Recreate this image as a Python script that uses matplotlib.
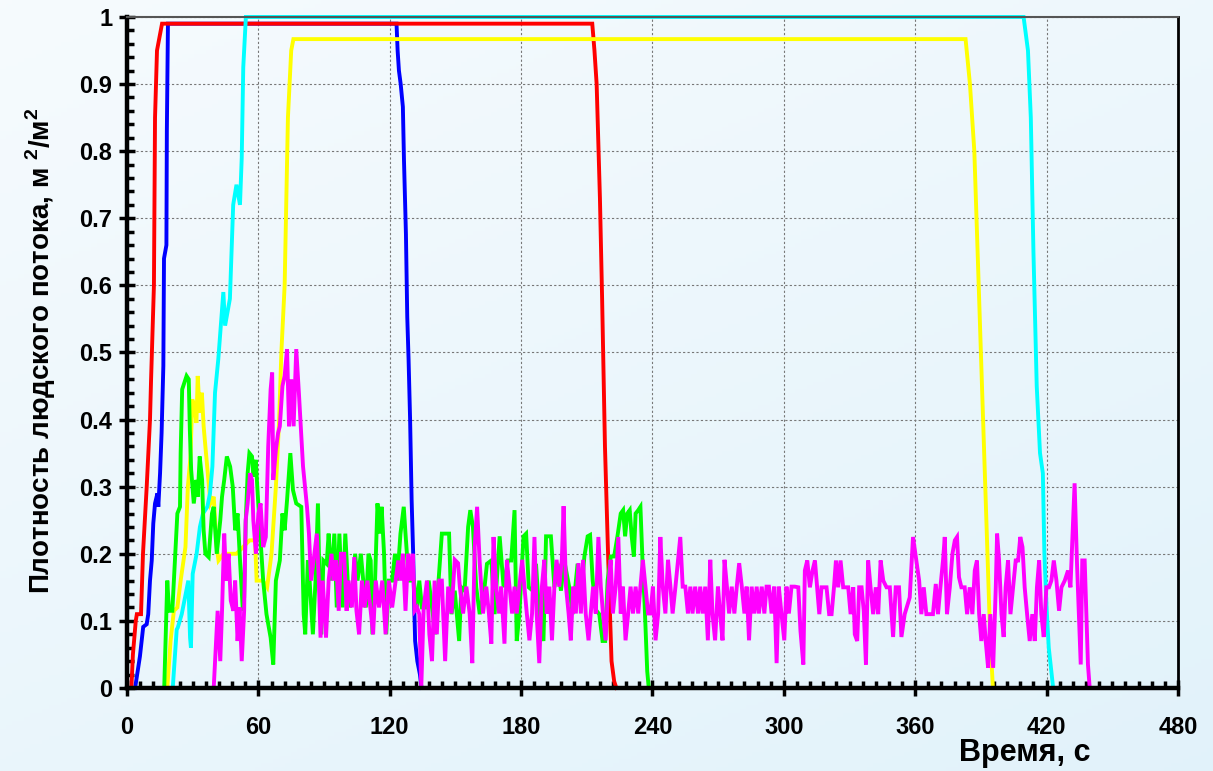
import numpy as np
import matplotlib
matplotlib.use("Agg")
import matplotlib.pyplot as plt
from matplotlib.ticker import MultipleLocator, FuncFormatter

plt.rcParams["font.family"] = ["Liberation Sans", "DejaVu Sans"]
plt.rcParams["font.weight"] = "bold"
plt.rcParams["mathtext.fontset"] = "custom"
plt.rcParams["mathtext.rm"] = "Liberation Sans:bold"
plt.rcParams["mathtext.bf"] = "Liberation Sans:bold"

# ── data (time, s ; density, m2/m2) ───────────────────────────────────────────
red = [(2, 0), (2.7, 0.05), (4, 0.1), (4.5, 0.11), (6.4, 0.11), (7.3, 0.2), (9, 0.3),
       (10.5, 0.4), (11, 0.46), (12.3, 0.6), (12.8, 0.85), (13.7, 0.95), (16, 0.99),
       (212.5, 0.99), (213.5, 0.95), (214.5, 0.9), (216, 0.73), (217, 0.58), (218.3, 0.36),
       (219.8, 0.19), (221.3, 0.04), (222.5, 0.01), (223.5, 0)]

blue = [(3.7, 0), (5.9, 0.047), (7.4, 0.091), (9, 0.095), (9.7, 0.11), (10.5, 0.16),
        (11.3, 0.19), (12, 0.245), (12.8, 0.275), (13.9, 0.29), (14.3, 0.27), (15.1, 0.32),
        (15.8, 0.38), (16.6, 0.48), (16.9, 0.64), (18, 0.66), (18.2, 0.83), (18.7, 0.99),
        (123.1, 0.99), (123.6, 0.95), (124.2, 0.92), (125, 0.9), (126, 0.866),
        (126.5, 0.787), (127.4, 0.676), (128, 0.553), (128.6, 0.49), (129.3, 0.4),
        (130, 0.28), (130.7, 0.2), (131.2, 0.12), (131.6, 0.07), (132.6, 0.04),
        (133.8, 0.02), (134.5, 0)]

cyan = [(20.9, 0), (22.7, 0.087), (23.2, 0.09), (25, 0.11), (28, 0.16), (28.8, 0.075),
        (29.2, 0.06), (30, 0.17), (31.8, 0.2), (33.3, 0.24), (34.7, 0.26), (36.7, 0.27),
        (37.9, 0.29), (39, 0.33), (40.2, 0.44), (41.7, 0.49), (44, 0.59), (44.8, 0.54),
        (47, 0.58), (48.5, 0.72), (50, 0.75), (51.6, 0.72), (52.4, 0.79), (53.1, 0.925),
        (54.3, 1.0), (409.5, 1.0), (411.5, 0.95), (412.8, 0.85), (414, 0.65), (415.5, 0.45),
        (417, 0.35), (418.3, 0.32), (419, 0.2), (420, 0.12), (421, 0.06), (423, 0)]

yellow = [(18.4, 0), (19.9, 0.07), (21.4, 0.115), (23, 0.12), (24.5, 0.16), (26.7, 0.21),
          (27.8, 0.3), (29, 0.345), (29.8, 0.43), (30.8, 0.42), (31.7, 0.395), (32.3, 0.465),
          (33.2, 0.41), (34.2, 0.44), (35, 0.39), (35.8, 0.36), (36.9, 0.32), (38.1, 0.275),
          (39.6, 0.285), (41, 0.21), (41.8, 0.19), (44.1, 0.2), (45.6, 0.16), (46.4, 0.2),
          (47.9, 0.2), (50, 0.2), (53, 0.21), (56, 0.22), (58.5, 0.22), (59.2, 0.16),
          (62, 0.16), (64, 0.15), (66, 0.2), (68, 0.3), (69.5, 0.4), (70.5, 0.5), (72, 0.6),
          (73.5, 0.85), (75, 0.95), (76, 0.967), (383, 0.967), (385, 0.9), (387, 0.8),
          (389, 0.6), (390.5, 0.45), (392, 0.3), (393, 0.2), (394, 0.1), (395, 0.03),
          (395.5, 0)]

green = [(17, 0), (18.4, 0.16), (19.2, 0.115), (20.7, 0.115), (22.2, 0.21), (23, 0.26),
         (24.2, 0.27), (24.5, 0.35), (25.2, 0.445), (27.2, 0.465), (28.2, 0.46), (28.7, 0.385),
         (29.3, 0.325), (30.5, 0.275), (31.7, 0.31), (32.3, 0.285), (33.2, 0.345), (34.3, 0.31),
         (35, 0.235), (35.8, 0.2), (37.3, 0.195), (38.8, 0.26), (39.6, 0.27), (41, 0.2),
         (42.6, 0.25), (43.4, 0.285), (44.4, 0.31), (45.6, 0.345), (47.1, 0.33), (48.3, 0.3),
         (49.4, 0.235), (50.5, 0.26), (51.7, 0.185), (52.9, 0.115), (53.5, 0.135), (54.2, 0.245),
         (55.1, 0.32), (55.9, 0.35), (57.1, 0.345), (57.7, 0.315), (58.8, 0.34), (59.5, 0.3),
         (60.7, 0.235), (62.2, 0.16), (63.7, 0.11), (65.6, 0.075), (66.8, 0.035), (68, 0.16),
         (69.8, 0.19), (71, 0.26), (72, 0.235), (73.1, 0.28), (74.6, 0.35), (75.8, 0.295),
         (77.3, 0.275), (79.6, 0.27), (80.7, 0.11), (81.4, 0.08), (82.6, 0.19), (83.4, 0.16),
         (84.9, 0.08), (86.1, 0.16), (87.2, 0.275), (87.9, 0.16), (88.7, 0.08), (89.7, 0.19),
         (91.2, 0.185), (92.1, 0.23), (93.2, 0.16), (94.7, 0.23), (95.8, 0.12), (97, 0.23),
         (98.5, 0.12), (99.7, 0.23), (100.8, 0.16), (101.8, 0.12), (103.3, 0.16), (104.2, 0.2),
         (105.3, 0.16), (106.8, 0.2), (107.9, 0.16), (109.1, 0.12), (110.3, 0.2), (111.3, 0.19),
         (112.1, 0.08), (113.3, 0.16), (114.4, 0.275), (115.4, 0.23), (116.3, 0.27), (117.4, 0.2),
         (118.4, 0.08), (119.6, 0.16), (121.1, 0.16), (122.4, 0.2), (123.4, 0.16), (124.9, 0.23),
         (126.4, 0.27), (127.2, 0.23), (128.7, 0.16), (131, 0.16), (132.5, 0.12), (133.5, 0.16),
         (134.7, 0.12), (136.6, 0.12), (137.8, 0.16), (139.3, 0.12), (140.8, 0.08), (142.3, 0.16),
         (143.8, 0.23), (145.3, 0.23), (147.1, 0.23), (148.2, 0.11), (149.7, 0.145), (151.7, 0.07),
         (152.7, 0.15), (154.2, 0.145), (155.8, 0.24), (156.8, 0.265), (158, 0.24), (159.5, 0.15),
         (161.1, 0.11), (163.3, 0.15), (164.4, 0.185), (166.4, 0.19), (167.9, 0.11), (170.2, 0.226),
         (172, 0.15), (174, 0.19), (175.5, 0.19), (177, 0.265), (178, 0.07), (179.2, 0.11),
         (181.1, 0.226), (182.3, 0.23), (183.5, 0.15), (185.3, 0.145), (186.8, 0.185), (188.3, 0.11),
         (190.2, 0.07), (191.4, 0.226), (193.6, 0.226), (195.2, 0.15), (196.7, 0.185), (198.2, 0.145),
         (199.7, 0.19), (202, 0.15), (203.5, 0.11), (205.8, 0.185), (207.7, 0.15), (208.9, 0.196),
         (210.4, 0.226), (211.5, 0.228), (212.7, 0.16), (214.2, 0.116), (215.7, 0.11), (217.2, 0.07),
         (218.4, 0.07), (219.5, 0.16), (221, 0.196), (222.5, 0.196), (224, 0.226), (225.5, 0.26),
         (226.6, 0.265), (227.5, 0.226), (228.5, 0.26), (229.6, 0.265), (230.5, 0.226), (231.5, 0.196),
         (232.3, 0.26), (233.5, 0.265), (234.5, 0.27), (235, 0.226), (235.6, 0.176), (236.4, 0.126),
         (237, 0.077), (237.6, 0.025), (238.3, 0)]

magenta = [(39.6, 0), (40.8, 0.075), (41.4, 0.115), (42.6, 0.04), (43.4, 0.115), (44.4, 0.23),
           (45.3, 0.16), (46.4, 0.2), (47.4, 0.13), (48.6, 0.115), (49.4, 0.16), (50.5, 0.07),
           (51.4, 0.12), (52.4, 0.04), (53.5, 0.115), (54.2, 0.25), (55.1, 0.275), (56.2, 0.32),
           (57.1, 0.31), (57.7, 0.25), (58.9, 0.2), (60, 0.26), (61, 0.275), (62.2, 0.21),
           (63.4, 0.225), (64.5, 0.36), (65.6, 0.445), (66.3, 0.47), (66.8, 0.31), (68, 0.355),
           (69, 0.38), (69.8, 0.39), (71, 0.45), (72, 0.465), (73.1, 0.505), (74, 0.39), (75, 0.46),
           (76.1, 0.39), (77.3, 0.505), (78.5, 0.44), (80.4, 0.33), (82.2, 0.27), (83.1, 0.23),
           (84.1, 0.16), (85.6, 0.2), (86.7, 0.23), (87.6, 0.16), (88.4, 0.075), (89.4, 0.16),
           (90.9, 0.075), (92.1, 0.16), (93.4, 0.2), (94.3, 0.16), (95.5, 0.19), (96.7, 0.115),
           (97.7, 0.2), (99.2, 0.2), (100.3, 0.115), (101.2, 0.16), (102.7, 0.12), (103.8, 0.195),
           (104.8, 0.115), (106, 0.08), (107.3, 0.16), (108.5, 0.12), (109.8, 0.16), (111.3, 0.115),
           (112.4, 0.08), (113.6, 0.16), (115.1, 0.12), (116.6, 0.16), (118.1, 0.08), (119.6, 0.16),
           (121.1, 0.12), (122.7, 0.16), (123.9, 0.19), (124.9, 0.16), (126, 0.2), (127.2, 0.115),
           (128.4, 0.2), (129.5, 0.16), (130.5, 0.2), (131.4, 0.115), (132.5, 0.12), (133.5, 0.11),
           (134.4, 0), (135.5, 0.12), (137, 0.16), (138.1, 0.08), (139.3, 0.04), (140.5, 0.16),
           (141.5, 0.08), (142.6, 0.16), (143.8, 0.16), (145.3, 0.04), (146.7, 0.151), (148.2, 0.111),
           (149.7, 0.191), (151.2, 0.186), (152, 0.151), (153.5, 0.111), (155, 0.151), (156.5, 0.111),
           (157.7, 0.037), (158.8, 0.21), (159.9, 0.27), (161.1, 0.186), (162.6, 0.111), (164.1, 0.151),
           (165.3, 0.111), (166.4, 0.066), (167.4, 0.225), (168.6, 0.151), (169.9, 0.111), (170.9, 0.151),
           (172.4, 0.066), (173.5, 0.191), (174.7, 0.151), (175.9, 0.111), (177, 0.151), (178, 0.111),
           (179.2, 0.151), (180.5, 0.191), (181.5, 0.151), (182.6, 0.111), (183.8, 0.071), (185, 0.111),
           (186.1, 0.225), (187.1, 0.111), (188.3, 0.037), (189.5, 0.151), (190.6, 0.191), (191.7, 0.111),
           (192.9, 0.151), (194.1, 0.071), (195.2, 0.151), (196.2, 0.191), (197.4, 0.151), (198.6, 0.191),
           (199.4, 0.271), (200.5, 0.151), (201.7, 0.111), (202.7, 0.071), (203.8, 0.151), (205, 0.111),
           (206.2, 0.186), (207.3, 0.111), (208.3, 0.191), (209.5, 0.111), (210.8, 0.071), (211.8, 0.111),
           (212.9, 0.151), (214.1, 0.111), (215.3, 0.225), (216.4, 0.151), (217.4, 0.111), (218.6, 0.071),
           (219.8, 0.151), (220.9, 0.191), (221.9, 0.111), (223.2, 0.151), (224.4, 0.225), (225.5, 0.111),
           (226.5, 0.151), (227.7, 0.071), (228.9, 0.111), (230, 0.151), (231.1, 0.111), (232.3, 0.151),
           (233.5, 0.111), (234.5, 0.151), (235.6, 0.191), (236.8, 0.151), (238, 0.111), (239.1, 0.111),
           (240.2, 0.151), (241.4, 0.071), (242.6, 0.111), (243.6, 0.225), (244.7, 0.151), (245.9, 0.111),
           (247.1, 0.191), (248.2, 0.151), (249.2, 0.111), (250.5, 0.151), (251.7, 0.191), (252.7, 0.225),
           (253.8, 0.151), (255, 0.151), (256.2, 0.111), (257.3, 0.151), (258.3, 0.111), (259.5, 0.151),
           (260.8, 0.111), (261.8, 0.151), (262.9, 0.111), (264.1, 0.151), (265.3, 0.071), (266.4, 0.191),
           (267.4, 0.111), (268.6, 0.071), (269.9, 0.151), (270.9, 0.111), (272, 0.071), (272.9, 0.191),
           (274, 0.151), (275, 0.111), (276.2, 0.151), (277.4, 0.111), (278.5, 0.151), (279.6, 0.186),
           (280.8, 0.151), (282, 0.111), (283, 0.151), (284.1, 0.071), (285.3, 0.151), (286.5, 0.111),
           (287.6, 0.151), (288.6, 0.111), (289.9, 0.151), (291.1, 0.111), (292.1, 0.151), (293.2, 0.151),
           (294.4, 0.111), (295.6, 0.151), (296.7, 0.037), (297.7, 0.151), (298.9, 0.111), (300.2, 0.071),
           (301.2, 0.151), (302.3, 0.111), (303.5, 0.151), (305, 0.151), (306.6, 0.15), (307.6, 0.085),
           (308.9, 0.035), (309.6, 0.175), (310.7, 0.19), (311.9, 0.15), (313.1, 0.175), (314.2, 0.19),
           (315.2, 0.15), (316.2, 0.11), (317.2, 0.15), (318.3, 0.15), (319.5, 0.15), (320.7, 0.11),
           (321.8, 0.11), (322.9, 0.15), (323.8, 0.19), (324.8, 0.15), (325.9, 0.19), (327.1, 0.15),
           (328.3, 0.15), (329.4, 0.15), (330.5, 0.11), (331.7, 0.15), (332.4, 0.08), (333.5, 0.07),
           (334.4, 0.15), (335.5, 0.15), (336.5, 0.115), (337.5, 0.035), (338.5, 0.19), (339.6, 0.15),
           (340.8, 0.11), (342, 0.15), (343.1, 0.11), (344.2, 0.19), (345.4, 0.16), (346.9, 0.15),
           (348.4, 0.15), (349.9, 0.076), (351.1, 0.15), (352.6, 0.15), (353.7, 0.076), (355.2, 0.11),
           (357.5, 0.135), (359, 0.225), (360.5, 0.19), (361.8, 0.16), (362.8, 0.11), (363.9, 0.15),
           (365.1, 0.11), (366.6, 0.11), (368.1, 0.11), (369.4, 0.155), (370.4, 0.11), (371.5, 0.15),
           (372.7, 0.19), (373.5, 0.225), (374.5, 0.11), (375.8, 0.15), (377, 0.2), (378.1, 0.22),
           (379.1, 0.225), (380, 0.165), (381.1, 0.15), (382.6, 0.15), (383.7, 0.11), (384.9, 0.15),
           (386.1, 0.11), (387.2, 0.175), (388.2, 0.19), (389.2, 0.11), (390.2, 0.07), (391.3, 0.11),
           (392.2, 0.07), (393.3, 0.03), (394.3, 0.11), (395.6, 0.03), (396.8, 0.15), (397.4, 0.23),
           (398.3, 0.19), (399.4, 0.11), (400.4, 0.076), (401.3, 0.15), (402.4, 0.19), (403.5, 0.11),
           (404.7, 0.15), (405.9, 0.19), (407, 0.19), (408, 0.225), (409, 0.21), (410, 0.15),
           (411.1, 0.11), (412.3, 0.07), (413.5, 0.11), (414.6, 0.07), (415.6, 0.15), (416.6, 0.19),
           (417.6, 0.11), (418.7, 0.076), (419.9, 0.15), (421.1, 0.15), (422.2, 0.16), (423.3, 0.19),
           (424.5, 0.16), (425.7, 0.115), (426.8, 0.15), (428.3, 0.16), (429.8, 0.175), (430.9, 0.15),
           (431.8, 0.225), (432.8, 0.305), (433.9, 0.185), (434.8, 0.105), (435.6, 0.035), (436.3, 0.19),
           (437.4, 0.19), (438.2, 0.11), (438.9, 0.035), (439.7, 0)]

series = [(blue, "#0000ff"), (red, "#ff0000"), (yellow, "#ffff00"),
          (cyan, "#00ffff"), (green, "#00ff00"), (magenta, "#ff00ff")]

x_ticks = list(range(0, 481, 60))
y_label = r"Плотность людского потока, м $^{\mathbf{2}}$/м$^{\mathbf{2}}$"
x_label = "Время, с"

# ── figure ────────────────────────────────────────────────────────────────────
fig = plt.figure(figsize=(12.13, 7.71), dpi=100)

# light blue gradient background
bg = fig.add_axes([0, 0, 1, 1], zorder=-5)
gx, gy = np.meshgrid(np.linspace(0, 1, 200), np.linspace(0, 1, 200))
g = np.clip(0.6 * gy + 0.4 * gx, 0, 1)
c0 = np.array([0.965, 0.984, 0.995])
c1 = np.array([0.885, 0.950, 0.982])
img = c0[None, None, :] * (1 - g[..., None]) + c1[None, None, :] * g[..., None]
bg.imshow(img, aspect="auto", extent=[0, 1, 0, 1])
bg.axis("off")

ax = fig.add_axes([0.1047, 0.1077, 0.8664, 0.8703])
ax.patch.set_alpha(0)

for data, color in series:
    arr = np.array(data)
    ax.plot(arr[:, 0], arr[:, 1], color=color, lw=2.8, clip_on=False,
            solid_joinstyle="miter")

ax.set_xlim(0, 480)
ax.set_ylim(0, 1)
ax.set_xticks(x_ticks)
ax.xaxis.set_minor_locator(MultipleLocator(6))
ax.yaxis.set_major_locator(MultipleLocator(0.1))
ax.yaxis.set_minor_locator(MultipleLocator(0.02))
ax.yaxis.set_major_formatter(FuncFormatter(lambda v, p: f"{v:g}"))

ax.grid(which="major", color="#777777", linestyle=(0, (2, 2)), linewidth=0.8)
ax.tick_params(which="major", direction="inout", length=11, width=2.5,
               labelsize=17, color="black")
ax.tick_params(axis="x", which="major", pad=15)
ax.tick_params(axis="y", which="major", pad=5)
ax.tick_params(which="minor", direction="in", length=5, width=2.5)

for side in ("left", "bottom"):
    ax.spines[side].set_linewidth(3.2)
    ax.spines[side].set_color("black")
ax.spines["right"].set_linewidth(2)
ax.spines["right"].set_color("black")
ax.spines["top"].set_linewidth(1.5)
ax.spines["top"].set_color("#555555")

fig.text(0.034, 0.545, y_label, rotation=90, ha="center", va="center",
         fontsize=20, fontweight="bold")
fig.text(0.899, 0.023, x_label, ha="right", va="center",
         fontsize=22, fontweight="bold")

fig.savefig("out.png", dpi=100)
